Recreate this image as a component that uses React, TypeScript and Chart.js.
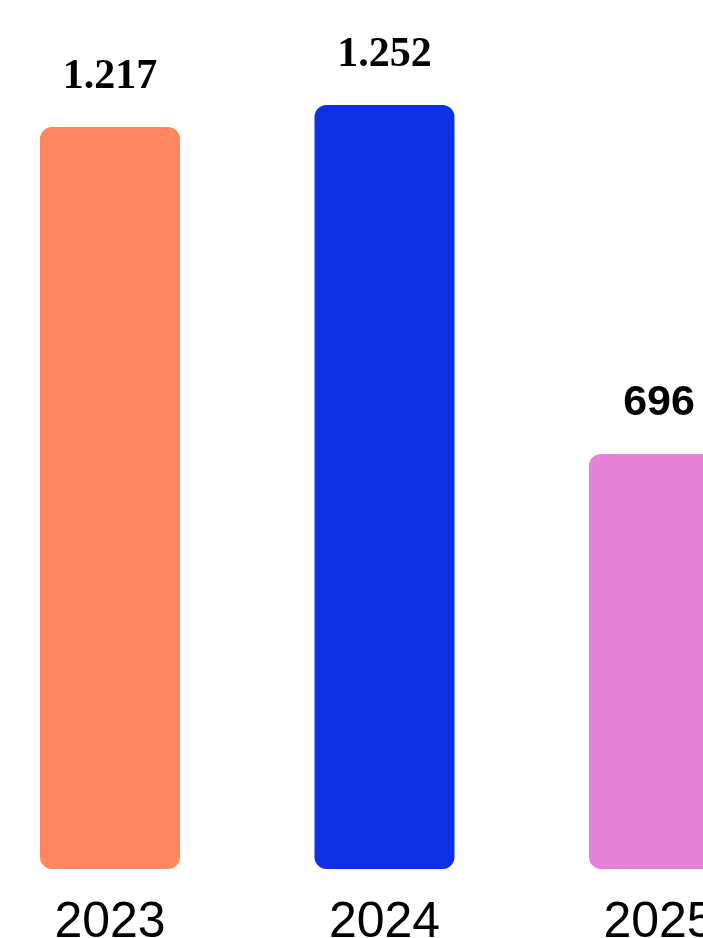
import React, { useEffect, useRef } from "react";
import { Chart, registerables } from "chart.js";

Chart.register(...registerables);

const categories = ["2023", "2024", "2025"];
const values = [1217, 1252, 696];
const barColors = ["#FF865F", "#0F31E6", "#E782D8"];
const yMin = 35;
const yMax = 1400;

function formatThousands(v: number): string {
  return String(v).replace(/\B(?=(\d{3})+(?!\d))/g, ".");
}

const valueLabelPlugin = {
  id: "valueLabels",
  afterDatasetsDraw(chart: any) {
    const ctx = chart.ctx;
    const meta = chart.getDatasetMeta(0);
    ctx.save();
    ctx.fillStyle = "#000";
    ctx.textAlign = "center";
    ctx.textBaseline = "alphabetic";
    meta.data.forEach((bar: any, i: number) => {
      const v = values[i];
      if (v >= 1000) {
        ctx.font = "bold 42px 'Liberation Serif'";
      } else {
        ctx.font = "bold 43px 'Liberation Sans'";
      }
      ctx.fillText(formatThousands(v), bar.x, bar.y - 39);
    });
    ctx.restore();
  },
};

export default function App() {
  const ref = useRef<HTMLCanvasElement | null>(null);
  useEffect(() => {
    if (!ref.current) return;
    const chart = new Chart(ref.current, {
      type: "bar",
      data: {
        labels: categories,
        datasets: [
          {
            data: values,
            base: yMin,
            backgroundColor: barColors,
            borderRadius: 12,
            borderSkipped: false,
            categoryPercentage: 1,
            barPercentage: 0.51,
            clip: false as any,
          } as any,
        ],
      },
      options: {
        responsive: false,
        animation: false,
        layout: { padding: { left: 110, right: 121, top: 12, bottom: 9 } },
        plugins: {
          legend: { display: false },
          tooltip: { enabled: false },
        },
        scales: {
          x: {
            offset: false,
            grid: { display: false, drawTicks: false },
            border: { display: false },
            ticks: {
              color: "#000",
              font: { family: "'Liberation Sans'", size: 50, lineHeight: 1.2 },
              padding: 24,
              maxRotation: 0,
              autoSkip: false,
            },
          },
          y: {
            display: false,
            min: yMin,
            max: yMax,
          },
        },
      },
      plugins: [valueLabelPlugin],
    });
    return () => chart.destroy();
  }, []);
  return (
    <div
      style={{
        position: "fixed",
        left: 0,
        top: 0,
        width: 703,
        height: 938,
        overflow: "hidden",
        background: "#fff",
      }}
    >
      <canvas ref={ref} width={780} height={986} style={{ display: "block" }} />
    </div>
  );
}
